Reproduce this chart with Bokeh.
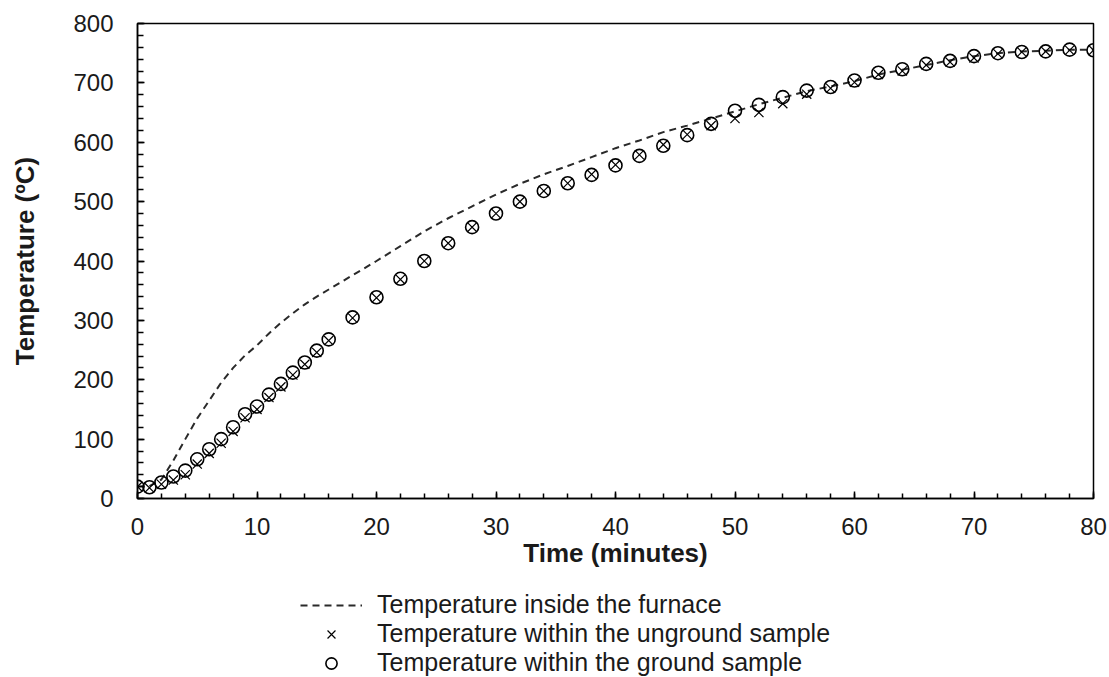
from bokeh.plotting import figure
from bokeh.models import Range1d, SingleIntervalTicker, Legend, LegendItem
from bokeh.layouts import column
from bokeh.embed import file_html
from bokeh.resources import INLINE

# ---- data ----
time_min = [0, 1, 2, 3, 4, 5, 6, 7, 8, 9, 10, 11, 12, 13, 14, 15, 16,
            18, 20, 22, 24, 26, 28, 30, 32, 34, 36, 38, 40, 42, 44, 46, 48,
            50, 52, 54, 56, 58, 60, 62, 64, 66, 68, 70, 72, 74, 76, 78, 80]

furnace = [20, 21, 32, 64, 100, 135, 165, 195, 220, 241, 258, 278, 296, 312, 327, 340, 352,
           376, 400, 425, 450, 472, 492, 512, 530, 546, 560, 575, 590, 603, 617, 628, 640,
           652, 664, 675, 686, 694, 703, 714, 722, 730, 738, 745, 750, 753, 754, 756, 756]

unground = [20, 18, 24, 31, 40, 58, 76, 93, 113, 136, 150, 170, 188, 208, 226, 246, 266,
            304, 338, 369, 400, 430, 457, 480, 500, 518, 531, 546, 562, 579, 596, 613, 628,
            640, 650, 665, 681, 691, 701, 714, 720, 730, 735, 742, 749, 752, 753, 755, 755]

ground = [20, 19, 27, 37, 47, 66, 83, 100, 120, 142, 155, 175, 193, 212, 229, 249, 268,
          305, 339, 370, 400, 430, 457, 480, 500, 518, 531, 545, 561, 577, 594, 612, 631,
          653, 663, 676, 687, 693, 704, 717, 723, 732, 737, 745, 750, 752, 753, 756, 755]

legend_labels = ["Temperature inside the furnace",
                 "Temperature within the unground sample",
                 "Temperature within the ground sample"]

FONT = "Liberation Sans"
TXT = "#1a1a1a"

LINE_STYLE = dict(line_color="#2a2a2a", line_width=2, line_dash="7 5")
X_STYLE = dict(marker="x", size=13, line_color="black", line_width=1.2)
O_STYLE = dict(marker="circle", size=13, fill_color=None, line_color="black", line_width=1.6)

# ---------------- main chart ----------------
p = figure(width=1109, height=580, output_backend="svg", toolbar_location=None,
           x_range=Range1d(0, 80), y_range=Range1d(0, 800),
           min_border_left=137, min_border_right=16, min_border_top=23, min_border_bottom=82,
           background_fill_color="white", border_fill_color="white")

p.xgrid.visible = False
p.ygrid.visible = False
p.outline_line_color = "black"
p.outline_line_width = 1.5
p.outline_line_alpha = 1.0

p.xaxis.ticker = SingleIntervalTicker(interval=10, num_minor_ticks=5)
p.yaxis.ticker = SingleIntervalTicker(interval=100, num_minor_ticks=5)

for ax in (p.xaxis[0], p.yaxis[0]):
    ax.axis_line_color = "black"
    ax.axis_line_width = 1.5
    ax.major_tick_in = 7
    ax.major_tick_out = 0
    ax.minor_tick_in = 5
    ax.minor_tick_out = 0
    ax.major_tick_line_color = "black"
    ax.major_tick_line_width = 1.5
    ax.minor_tick_line_color = "black"
    ax.minor_tick_line_width = 1.5
    ax.major_label_text_font = FONT
    ax.major_label_text_font_size = "24px"
    ax.major_label_text_color = TXT
    ax.axis_label_text_font = FONT
    ax.axis_label_text_font_size = "26px"
    ax.axis_label_text_font_style = "bold"
    ax.axis_label_text_color = TXT

p.xaxis.axis_label = "Time (minutes)"
p.yaxis.axis_label = "Temperature (ºC)"
p.xaxis.major_label_standoff = 19
p.xaxis.axis_label_standoff = 0
p.yaxis.major_label_standoff = 24
p.yaxis.axis_label_standoff = 30
p.yaxis.minor_tick_in = 6

p.line(time_min, furnace, **LINE_STYLE)
p.scatter(time_min, unground, **X_STYLE)
p.scatter(time_min, ground, **O_STYLE)

# ---------------- legend strip below the chart ----------------
q = figure(width=1109, height=97, output_backend="svg", toolbar_location=None,
           x_range=Range1d(0, 1), y_range=Range1d(0, 1),
           min_border_left=0, min_border_right=0, min_border_top=0, min_border_bottom=0,
           background_fill_color="white", border_fill_color="white")
q.axis.visible = False
q.xgrid.visible = False
q.ygrid.visible = False
q.outline_line_color = None

k_line = q.line(time_min, furnace, visible=False, **LINE_STYLE)
k_x = q.scatter(time_min, unground, visible=False, **X_STYLE)
k_o = q.scatter(time_min, ground, visible=False, **O_STYLE)

legend = Legend(items=[LegendItem(label=legend_labels[0], renderers=[k_line]),
                       LegendItem(label=legend_labels[1], renderers=[k_x]),
                       LegendItem(label=legend_labels[2], renderers=[k_o])],
                location=(163, 0), orientation="vertical",
                padding=0, margin=0, spacing=0,
                glyph_width=62, glyph_height=28, label_height=24,
                label_standoff=15, click_policy="none",
                label_text_font=FONT, label_text_font_size="25px", label_text_color=TXT,
                border_line_color=None, background_fill_alpha=0)
q.add_layout(legend)

layout = column(p, q, spacing=0)
open("out.html", "w").write(file_html(layout, INLINE))
